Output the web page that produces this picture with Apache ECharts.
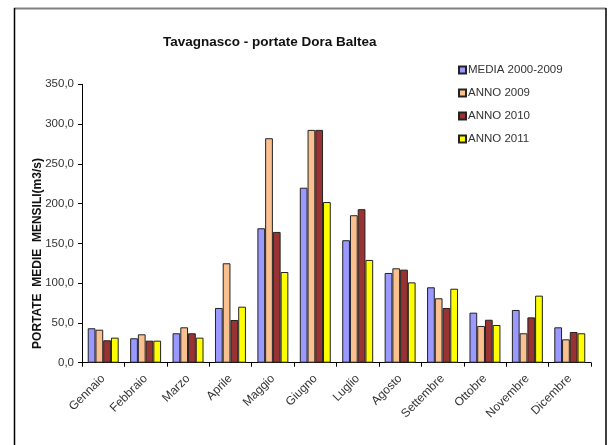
<!DOCTYPE html>
<html>
<head>
<meta charset="utf-8">
<script src="https://cdn.jsdelivr.net/npm/echarts@6/dist/echarts.min.js"></script>
<style>
html,body{margin:0;padding:0;background:#fff;}
#chart{width:611px;height:445px;}
</style>
</head>
<body>
<div id="chart"></div>
<script>
var titleText = 'Tavagnasco - portate Dora Baltea';
var yAxisName = 'PORTATE  MEDIE  MENSILI(m3/s)';
var months = ['Gennaio','Febbraio','Marzo','Aprile','Maggio','Giugno','Luglio','Agosto','Settembre','Ottobre','Novembre','Dicembre'];
var seriesNames = ['MEDIA 2000-2009','ANNO 2009','ANNO 2010','ANNO 2011'];
var media2000_2009 = [43.3, 30.7, 37.0, 68.8, 169.0, 220.0, 154.0, 112.8, 94.8, 62.9, 66.3, 44.5];
var anno2009 = [41.5, 35.7, 44.5, 125.0, 282.2, 292.7, 185.4, 118.7, 81.0, 46.2, 37.0, 29.4];
var anno2010 = [28.2, 27.7, 37.0, 53.7, 164.4, 292.7, 193.0, 117.0, 68.8, 54.0, 57.0, 38.6];
var anno2011 = [31.5, 27.7, 31.5, 70.4, 114.0, 202.0, 129.2, 101.0, 93.0, 47.4, 84.3, 37.0];
var yTicks = [0, 350, 50];
var colors = ['#9999FF', '#FAC090', '#993333', '#FFFF00'];

var font = '"Liberation Sans", Arial, sans-serif';
var allData = [media2000_2009, anno2009, anno2010, anno2011];
var series = allData.map(function (d, i) {
  return {
    name: seriesNames[i],
    type: 'bar',
    data: d,
    barGap: '0%',
    barCategoryGap: '27%',
    itemStyle: { color: colors[i], borderColor: '#222', borderWidth: 1 }
  };
});

var chart = echarts.init(document.getElementById('chart'), null, { renderer: 'canvas' });
chart.setOption({
  animation: false,
  backgroundColor: '#fff',
  title: {
    text: titleText,
    left: 158,
    top: 30,
    textStyle: { fontFamily: font, fontSize: 13.5, fontWeight: 'bold', color: '#111' }
  },
  legend: {
    orient: 'vertical',
    left: 453,
    top: 58,
    itemWidth: 7,
    itemHeight: 7,
    itemGap: 9,
    icon: 'rect',
    textStyle: { fontFamily: font, fontSize: 11.5, color: '#333', lineHeight: 14, padding: [0,0,0,-3] },
    data: seriesNames
  },
  grid: { left: 82, right: 20, top: 84.3, bottom: 82.3, containLabel: false },
  xAxis: {
    type: 'category',
    data: months,
    axisLine: { lineStyle: { color: '#000', width: 1 } },
    axisTick: { show: true, length: 4, lineStyle: { color: '#000' } },
    axisLabel: { rotate: 45, margin: 14, interval: 0, fontFamily: font, fontSize: 12, color: '#333' }
  },
  yAxis: {
    type: 'value',
    min: yTicks[0],
    max: yTicks[1],
    interval: yTicks[2],
    name: yAxisName,
    nameLocation: 'middle',
    nameRotate: 90,
    nameGap: 38,
    nameMoveOverlap: false,
    nameTextStyle: { fontFamily: font, fontSize: 12, fontWeight: 'bold', color: '#111', padding: [0, 60, 0, 0] },
    axisLine: { show: true, lineStyle: { color: '#000', width: 1 } },
    axisTick: { show: true, length: 4, lineStyle: { color: '#000' } },
    splitLine: { show: false },
    axisLabel: {
      margin: 8, fontFamily: font, fontSize: 11.5, color: '#333',
      formatter: function (v) { return v.toFixed(1).replace('.', ','); }
    }
  },
  graphic: [
    { type: 'line', shape: { x1: 14, y1: 8.5, x2: 606, y2: 8.5 }, style: { stroke: '#808080', lineWidth: 2 } },
    { type: 'line', shape: { x1: 14.5, y1: 8, x2: 14.5, y2: 445 }, style: { stroke: '#000', lineWidth: 1.5 } },
    { type: 'line', shape: { x1: 606, y1: 8, x2: 606, y2: 445 }, style: { stroke: '#000', lineWidth: 1.5 } }
  ],
  series: series
});
</script>
</body>
</html>
